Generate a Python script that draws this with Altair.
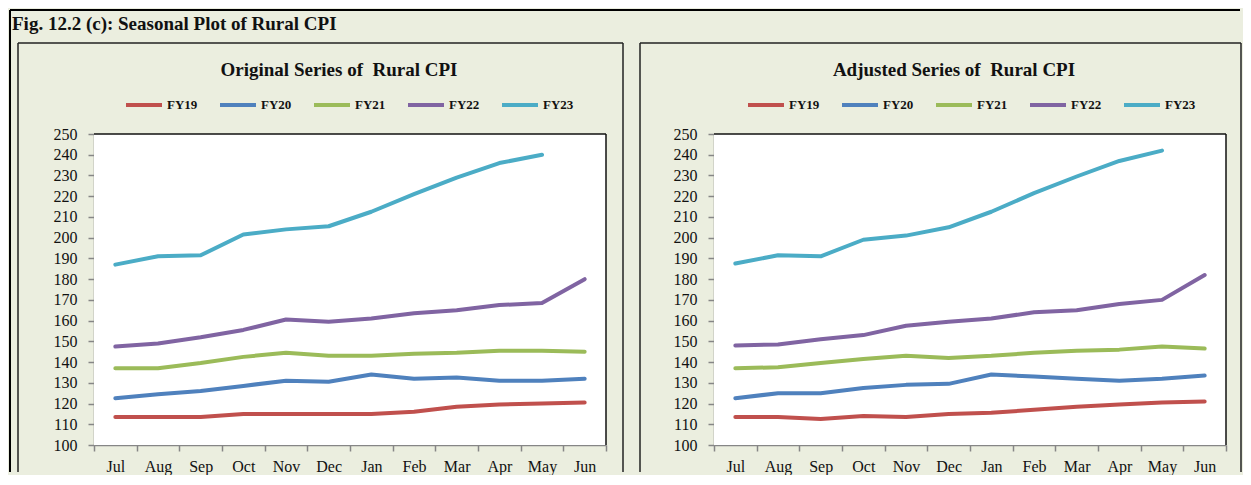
import altair as alt
import pandas as pd

# ---------------- data ----------------
months = ["Jul", "Aug", "Sep", "Oct", "Nov", "Dec", "Jan", "Feb", "Mar", "Apr", "May", "Jun"]
series_names = ["FY19", "FY20", "FY21", "FY22", "FY23"]
series_colors = ["#C0504D", "#4F81BD", "#9BBB59", "#8064A2", "#4BACC6"]
y_ticks = list(range(100, 251, 10))

orig_fy19 = [113.5, 113.5, 113.5, 115, 115, 115, 115, 116, 118.5, 119.5, 120, 120.5]
orig_fy20 = [122.5, 124.5, 126, 128.5, 131, 130.5, 134, 132, 132.5, 131, 131, 132]
orig_fy21 = [137, 137, 139.5, 142.5, 144.5, 143, 143, 144, 144.5, 145.5, 145.5, 145]
orig_fy22 = [147.5, 149, 152, 155.5, 160.5, 159.5, 161, 163.5, 165, 167.5, 168.5, 180]
orig_fy23 = [187, 191, 191.5, 201.5, 204, 205.5, 212.5, 221, 229, 236, 240, None]

adj_fy19 = [113.5, 113.5, 112.5, 114, 113.5, 115, 115.5, 117, 118.5, 119.5, 120.5, 121]
adj_fy20 = [122.5, 125, 125, 127.5, 129, 129.5, 134, 133, 132, 131, 132, 133.5]
adj_fy21 = [137, 137.5, 139.5, 141.5, 143, 142, 143, 144.5, 145.5, 146, 147.5, 146.5]
adj_fy22 = [148, 148.5, 151, 153, 157.5, 159.5, 161, 164, 165, 168, 170, 182]
adj_fy23 = [187.5, 191.5, 191, 199, 201, 205, 212.5, 221.5, 229.5, 237, 242, None]

fig_title = "Fig. 12.2 (c): Seasonal Plot of Rural CPI"
left_title = "Original Series of\u00a0 Rural CPI"
right_title = "Adjusted Series of\u00a0 Rural CPI"

# ---------------- styling ----------------
BG = "#EBEEDF"
FONT = "Liberation Serif"
PLOT_W = 512
PLOT_H = 311
BOTTOM = 338
GAP = 108  # space between the two plot areas


def to_table(cols):
    rows = []
    for name, vals in zip(series_names, cols):
        for m, v in zip(months, vals):
            if v is not None:
                rows.append({"month": m, "series": name, "value": v})
    return pd.DataFrame(rows)


def rule(x, y, x2=None, y2=None, width=1.5, color="black"):
    enc = {"x": alt.value(x), "y": alt.value(y)}
    if x2 is not None:
        enc["x2"] = alt.value(x2)
    if y2 is not None:
        enc["y2"] = alt.value(y2)
    return alt.Chart(pd.DataFrame({"k": [0]})).mark_rule(
        color=color, strokeWidth=width
    ).encode(**enc)


def panel(cols, title, title_x, legend_x, box_left, box_right, is_left):
    one = alt.Chart(pd.DataFrame({"k": [0]}))
    layers = []
    if is_left:
        # outer figure frame (top + left) and figure title
        layers.append(rule(-84, -124, x2=2 * PLOT_W + GAP + 14, width=2))
        layers.append(rule(-84, -124, y2=BOTTOM, width=2))
        layers.append(
            one.mark_text(
                text=fig_title, align="left", baseline="alphabetic",
                font=FONT, fontSize=19, fontWeight="bold", color="#111111",
            ).encode(x=alt.value(-82), y=alt.value(-104))
        )
    # panel box (left, top, right borders)
    layers.append(rule(box_left, -91, y2=BOTTOM, width=1.5, color="#222222"))
    layers.append(rule(box_left, -91, x2=box_right, width=1.5, color="#222222"))
    layers.append(rule(box_right, -91, y2=BOTTOM, width=1.5, color="#222222"))
    # panel title
    layers.append(
        one.mark_text(
            text=title, align="center", baseline="alphabetic",
            font=FONT, fontSize=19, fontWeight="bold", color="#111111",
        ).encode(x=alt.value(title_x), y=alt.value(-58))
    )
    # white plot area with dark top/right border
    layers.append(
        one.mark_rect(fill="white").encode(
            x=alt.value(0), x2=alt.value(PLOT_W), y=alt.value(0), y2=alt.value(PLOT_H)
        )
    )
    layers.append(rule(0, 0, x2=PLOT_W, width=1.5, color="#111111"))
    layers.append(rule(PLOT_W, 0, y2=PLOT_H, width=1.5, color="#111111"))

    lines = alt.Chart(to_table(cols)).mark_line(
        strokeWidth=4, strokeJoin="round", strokeCap="round"
    ).encode(
        x=alt.X(
            "month:O", sort=months, bandPosition=0.5,
            scale=alt.Scale(type="band", paddingInner=0, paddingOuter=0),
            axis=alt.Axis(title=None, tickBand="extent", labelAngle=0, labelPadding=7),
        ),
        y=alt.Y(
            "value:Q",
            scale=alt.Scale(domain=[100, 250], nice=False, zero=False),
            axis=alt.Axis(title=None, values=y_ticks, labelPadding=11),
        ),
        color=alt.Color(
            "series:N",
            scale=alt.Scale(domain=series_names, range=series_colors),
            legend=alt.Legend(
                title=None, orient="none", direction="horizontal",
                legendX=legend_x, legendY=-49,
                symbolType="stroke", symbolSize=1296, symbolStrokeWidth=4,
                labelFont=FONT, labelFontSize=13, labelFontWeight="bold",
                labelColor="#111111", labelOffset=3, columnPadding=14,
            ),
        ),
        detail="series:N",
    )
    layers.append(lines)
    return alt.layer(*layers).properties(width=PLOT_W, height=PLOT_H)


left = panel(
    [orig_fy19, orig_fy20, orig_fy21, orig_fy22, orig_fy23],
    left_title, 245, 30, -76, PLOT_W + 17, True,
)
right = panel(
    [adj_fy19, adj_fy20, adj_fy21, adj_fy22, adj_fy23],
    right_title, 240, 32, -74, PLOT_W + 15, False,
)

chart = (
    alt.hconcat(left, right, spacing=GAP, bounds="flush")
    .resolve_scale(color="independent")
    .resolve_legend(color="independent")
    .properties(background=BG, padding=0)
    .configure_view(stroke="transparent")
    .configure_axis(
        grid=False,
        labelFont=FONT, labelFontSize=16, labelColor="#111111",
        domainColor="#868686", domainWidth=1.5,
        tickColor="#868686", tickWidth=1.5, tickSize=6,
    )
)

chart.save("out.html", embed_options={"renderer": "svg", "actions": False})
